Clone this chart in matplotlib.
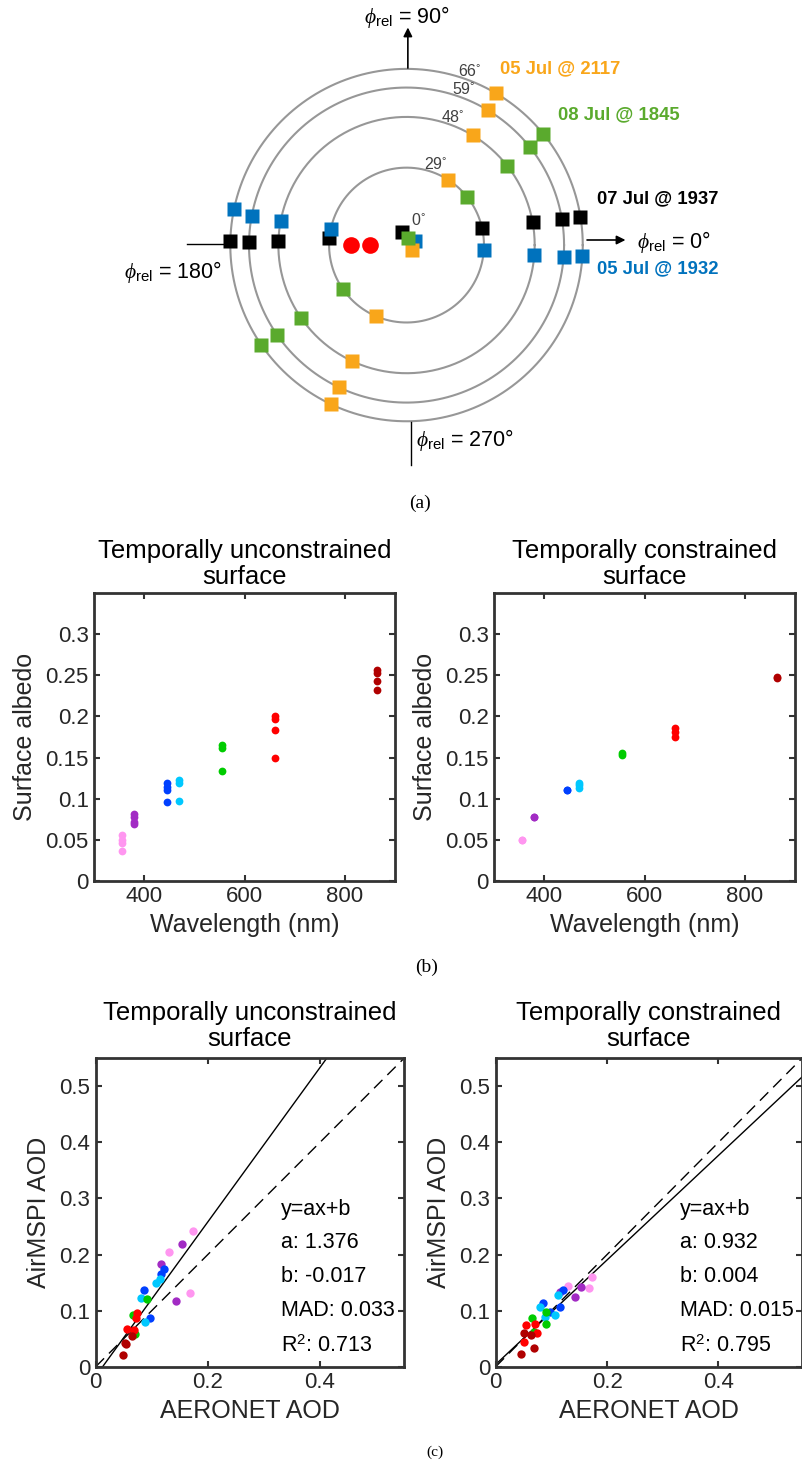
import numpy as np
import matplotlib
matplotlib.use("Agg")
import matplotlib.pyplot as plt

plt.rcParams['font.family'] = ['Liberation Sans', 'DejaVu Sans']
plt.rcParams['mathtext.fontset'] = 'custom'
plt.rcParams['mathtext.rm'] = 'Liberation Sans'
plt.rcParams['mathtext.it'] = 'Liberation Serif:italic'
plt.rcParams['mathtext.bf'] = 'Liberation Sans:bold'

# ---- (a) viewing geometry: view zenith rings (deg) and relative azimuths (deg)
rings = [29, 48, 59, 66]
ring_labels = ['29', '48', '59', '66']

dates = ['05 Jul @ 2117', '08 Jul @ 1845', '07 Jul @ 1937', '05 Jul @ 1932']
date_colors = ['#F9A61A', '#5AAA2D', '#000000', '#0072BD']
# azimuth of the forward / backward camera views, one value per ring
az_fwd = {
    '05 Jul @ 2117': [57.5, 59.0, 59.0, 59.5],
    '08 Jul @ 1845': [38.7, 38.3, 38.6, 39.0],
    '07 Jul @ 1937': [12.4, 10.2, 9.7, 9.3],
    '05 Jul @ 1932': [356.5, 355.7, 355.8, 356.5],
}
az_aft = {
    '05 Jul @ 2117': [246.5, 245.0, 244.5, 244.7],
    '08 Jul @ 1845': [214.5, 214.8, 214.9, 214.6],
    '07 Jul @ 1937': [174.8, 178.2, 178.9, 178.7],
    '05 Jul @ 1932': [168.2, 169.3, 169.2, 168.3],
}
# near-nadir view (zenith, azimuth)
nadir_vza = {'05 Jul @ 2117': 2.8, '08 Jul @ 1845': 2.7,
             '07 Jul @ 1937': 5.2, '05 Jul @ 1932': 3.5}
nadir_az = {'05 Jul @ 2117': 318, '08 Jul @ 1845': 77,
            '07 Jul @ 1937': 109, '05 Jul @ 1932': 25}
sun_vza = [20.8, 13.7]
sun_az = [180, 180]

# ---- (b) surface albedo per band
bands = [355, 380, 445, 470, 555, 660, 865]
band_colors = ['#FF96F0', '#A22BC4', '#0040FF', '#00C8FF', '#00CC00', '#FF0000', '#B00000']
alb_uncon = [
    [0.056, 0.050, 0.046, 0.036],
    [0.081, 0.077, 0.072, 0.069],
    [0.119, 0.1145, 0.110, 0.096],
    [0.1226, 0.119, 0.0975],
    [0.165, 0.161, 0.133],
    [0.200, 0.1965, 0.184, 0.149],
    [0.2566, 0.2525, 0.243, 0.232],
]
alb_con = [
    [0.0495, 0.0495],
    [0.078, 0.078],
    [0.111, 0.111],
    [0.119, 0.116, 0.113],
    [0.155, 0.153],
    [0.1855, 0.1815, 0.1754],
    [0.2485, 0.247],
]
alb_ticks = [0, 0.05, 0.1, 0.15, 0.2, 0.25, 0.3]
wl_ticks = [400, 600, 800]

# ---- (c) AOD comparison, per band (355 ... 865)
aer_uncon = [
    [0.173, 0.130, 0.168],
    [0.154, 0.116, 0.143],
    [0.121, 0.116, 0.086, 0.097],
    [0.114, 0.108, 0.080, 0.088],
    [0.092, 0.066, 0.070],
    [0.074, 0.072, 0.055, 0.068],
    [0.064, 0.053, 0.054, 0.048],
]
msp_uncon = [
    [0.242, 0.204, 0.131],
    [0.218, 0.183, 0.117],
    [0.174, 0.166, 0.137, 0.087],
    [0.156, 0.150, 0.122, 0.079],
    [0.121, 0.093, 0.058],
    [0.096, 0.086, 0.068, 0.065],
    [0.055, 0.043, 0.040, 0.021],
]
aer_con = [
    [0.173, 0.129, 0.167],
    [0.153, 0.115, 0.142],
    [0.121, 0.085, 0.115, 0.098],
    [0.112, 0.079, 0.107, 0.088],
    [0.066, 0.090, 0.091, 0.068],
    [0.055, 0.071, 0.074, 0.051],
    [0.051, 0.063, 0.069, 0.046],
]
msp_con = [
    [0.160, 0.144, 0.141],
    [0.142, 0.133, 0.125],
    [0.137, 0.113, 0.106, 0.097],
    [0.128, 0.106, 0.092, 0.089],
    [0.087, 0.098, 0.076, 0.062],
    [0.074, 0.076, 0.060, 0.044],
    [0.060, 0.056, 0.034, 0.023],
]
fit_uncon = {'a': 1.376, 'b': -0.017, 'MAD': 0.033, 'R2': 0.713}
fit_con = {'a': 0.932, 'b': 0.004, 'MAD': 0.015, 'R2': 0.795}
aod_ticks_x = [0, 0.2, 0.4]
aod_ticks_y = [0, 0.1, 0.2, 0.3, 0.4, 0.5]

W, H = 803, 1460
fig = plt.figure(figsize=(W / 100, H / 100), dpi=100)
TXT = '#262626'
EDGE = '#333333'


def px_axes(left, top, right, bottom):
    return fig.add_axes([left / W, 1 - bottom / H, (right - left) / W, (bottom - top) / H])


def polar_xy(r, az):
    r = np.asarray(r, float)
    a = np.radians(np.asarray(az, float))
    return r * np.cos(a), r * np.sin(a)


# ================= panel (a)
ax = px_axes(100, 0, 720, 480)
ax.set_xlim(-114.8, 117.4)
ax.set_ylim(-88.0, 91.8)
ax.axis('off')

t = np.linspace(0, 2 * np.pi, 400)
for r, lab in zip(rings, ring_labels):
    ax.plot(r * np.cos(t), r * np.sin(t), color='#979797', lw=1.5, zorder=1)
    lx, ly = polar_xy(r + 3.2, 70)
    ax.text(lx, ly, lab + '$^{\u00b0}$', fontsize=11.5, color='#404040',
            ha='center', va='center')
ax.text(4.3, 9.4, '0$^{\u00b0}$', fontsize=11.5, color='#404040', ha='center', va='center')

for d in ['07 Jul @ 1937', '05 Jul @ 1932', '05 Jul @ 2117', '08 Jul @ 1845']:
    c = date_colors[dates.index(d)]
    x1, y1 = polar_xy(rings, az_fwd[d])
    x2, y2 = polar_xy(rings, az_aft[d])
    x0, y0 = polar_xy([nadir_vza[d]], [nadir_az[d]])
    xs = np.concatenate([x2, x0, x1])
    ys = np.concatenate([y2, y0, y1])
    ax.plot(xs, ys, 's', color=c, ms=10, mec='none', ls='none', zorder=3)

sx, sy = polar_xy(sun_vza, sun_az)
ax.plot(sx, sy, 'o', color='#FF0000', ms=12, mec='none', ls='none', zorder=3)

label_pos = {'05 Jul @ 2117': (35.0, 65.9), '08 Jul @ 1845': (56.7, 48.7),
             '07 Jul @ 1937': (71.3, 17.2), '05 Jul @ 1932': (71.3, -9.0)}
for d, c in zip(dates, date_colors):
    ax.text(*label_pos[d], d, color=c, fontsize=13.3, fontweight='bold',
            ha='left', va='center')

arrow = dict(arrowstyle='-|>', color='k', lw=1.2, mutation_scale=13,
             shrinkA=0, shrinkB=0)
ax.annotate('', xy=(0.5, 81.5), xytext=(0.5, 66.3), arrowprops=arrow)
ax.annotate('', xy=(82.0, 1.9), xytext=(67.6, 1.9), arrowprops=arrow)
ax.plot([-82.2, -66.1], [0.4, 0.4], color='k', lw=1.0)
ax.plot([1.7, 1.7], [-66.3, -82.4], color='k', lw=1.0)

phi = r'$\phi_{\mathrm{rel}}$'
ax.text(0, 85.5, phi + ' = 90\u00b0', fontsize=15.5, ha='center', va='center')
ax.text(86.5, 1.0, phi + ' = 0\u00b0', fontsize=15.5, ha='left', va='center')
ax.text(-69.0, -10.0, phi + ' = 180\u00b0', fontsize=15.5, ha='right', va='center')
ax.text(3.6, -73.0, phi + ' = 270\u00b0', fontsize=15.5, ha='left', va='center')

fig.text(420 / W, 1 - 503 / H, '(a)', fontsize=14, family='Liberation Serif',
         ha='center', va='center')


def style_axes(ax):
    for s in ax.spines.values():
        s.set_linewidth(2.0)
        s.set_color(EDGE)
    ax.tick_params(direction='in', top=True, right=True, length=4, width=1.5,
                   color=EDGE, labelcolor=TXT, labelsize=16, pad=4)


# ================= panel (b)
titles = ['Temporally unconstrained\nsurface', 'Temporally constrained\nsurface']
for k, (alb, left) in enumerate(zip([alb_uncon, alb_con], [94.3, 494.3])):
    ax = px_axes(left, 593.3, left + 300.7, 880.7)
    for wl, vals, c in zip(bands, alb, band_colors):
        ax.plot([wl] * len(vals), vals, 'o', color=c, ms=5.6, mec='none', ls='none')
    ax.set_xlim(300, 900)
    ax.set_ylim(0, 0.35)
    ax.set_xticks(wl_ticks)
    ax.set_yticks(alb_ticks)
    ax.set_yticklabels(['%g' % v for v in alb_ticks])
    style_axes(ax)
    ax.set_xlabel('Wavelength (nm)', fontsize=18, color=TXT, labelpad=4)
    ax.set_ylabel('Surface albedo', fontsize=18, color=TXT, labelpad=6)
    ax.set_title(titles[k], fontsize=18.5, pad=7, linespacing=1.08)

fig.text(427 / W, 1 - 967 / H, '(b)', fontsize=14, family='Liberation Serif',
         ha='center', va='center')

# ================= panel (c)
text_y = [0.270, 0.211, 0.151, 0.090, 0.027]
for k, (aer, msp, fit, left, right) in enumerate(zip(
        [aer_uncon, aer_con], [msp_uncon, msp_con], [fit_uncon, fit_con],
        [95.7, 495.7], [404.0, 802.0])):
    ax = px_axes(left, 1058.3, right, 1366.7)
    lim = np.array([0, 0.55])
    ax.plot(lim, lim, color='k', lw=1.0, dashes=(8.5, 5))
    ax.plot(lim, fit['a'] * lim + fit['b'], color='k', lw=1.0)
    for xs, ys, c in zip(aer, msp, band_colors):
        ax.plot(xs, ys, 'o', color=c, ms=6, mec='none', ls='none')
    ax.set_xlim(0, 0.55)
    ax.set_ylim(0, 0.55)
    ax.set_xticks(aod_ticks_x)
    ax.set_xticklabels(['%g' % v for v in aod_ticks_x])
    ax.set_yticks(aod_ticks_y)
    ax.set_yticklabels(['%g' % v for v in aod_ticks_y])
    style_axes(ax)
    ax.set_xlabel('AERONET AOD', fontsize=18, color=TXT, labelpad=4)
    ax.set_ylabel('AirMSPI AOD', fontsize=18, color=TXT, labelpad=6)
    ax.set_title(titles[k], fontsize=18.5, pad=9, linespacing=1.08)
    lines = ['y=ax+b', 'a: %.3f' % fit['a'], 'b: %.3f' % fit['b'],
             'MAD: %.3f' % fit['MAD'], 'R$^{2}$: %.3f' % fit['R2']]
    for s, yv in zip(lines, text_y):
        ax.text(0.331, yv, s, fontsize=15.5, ha='left', va='baseline')

fig.text(435 / W, 1 - 1452 / H, '(c)', fontsize=11, family='Liberation Serif',
         ha='center', va='center')

fig.savefig('out.png', dpi=100)
